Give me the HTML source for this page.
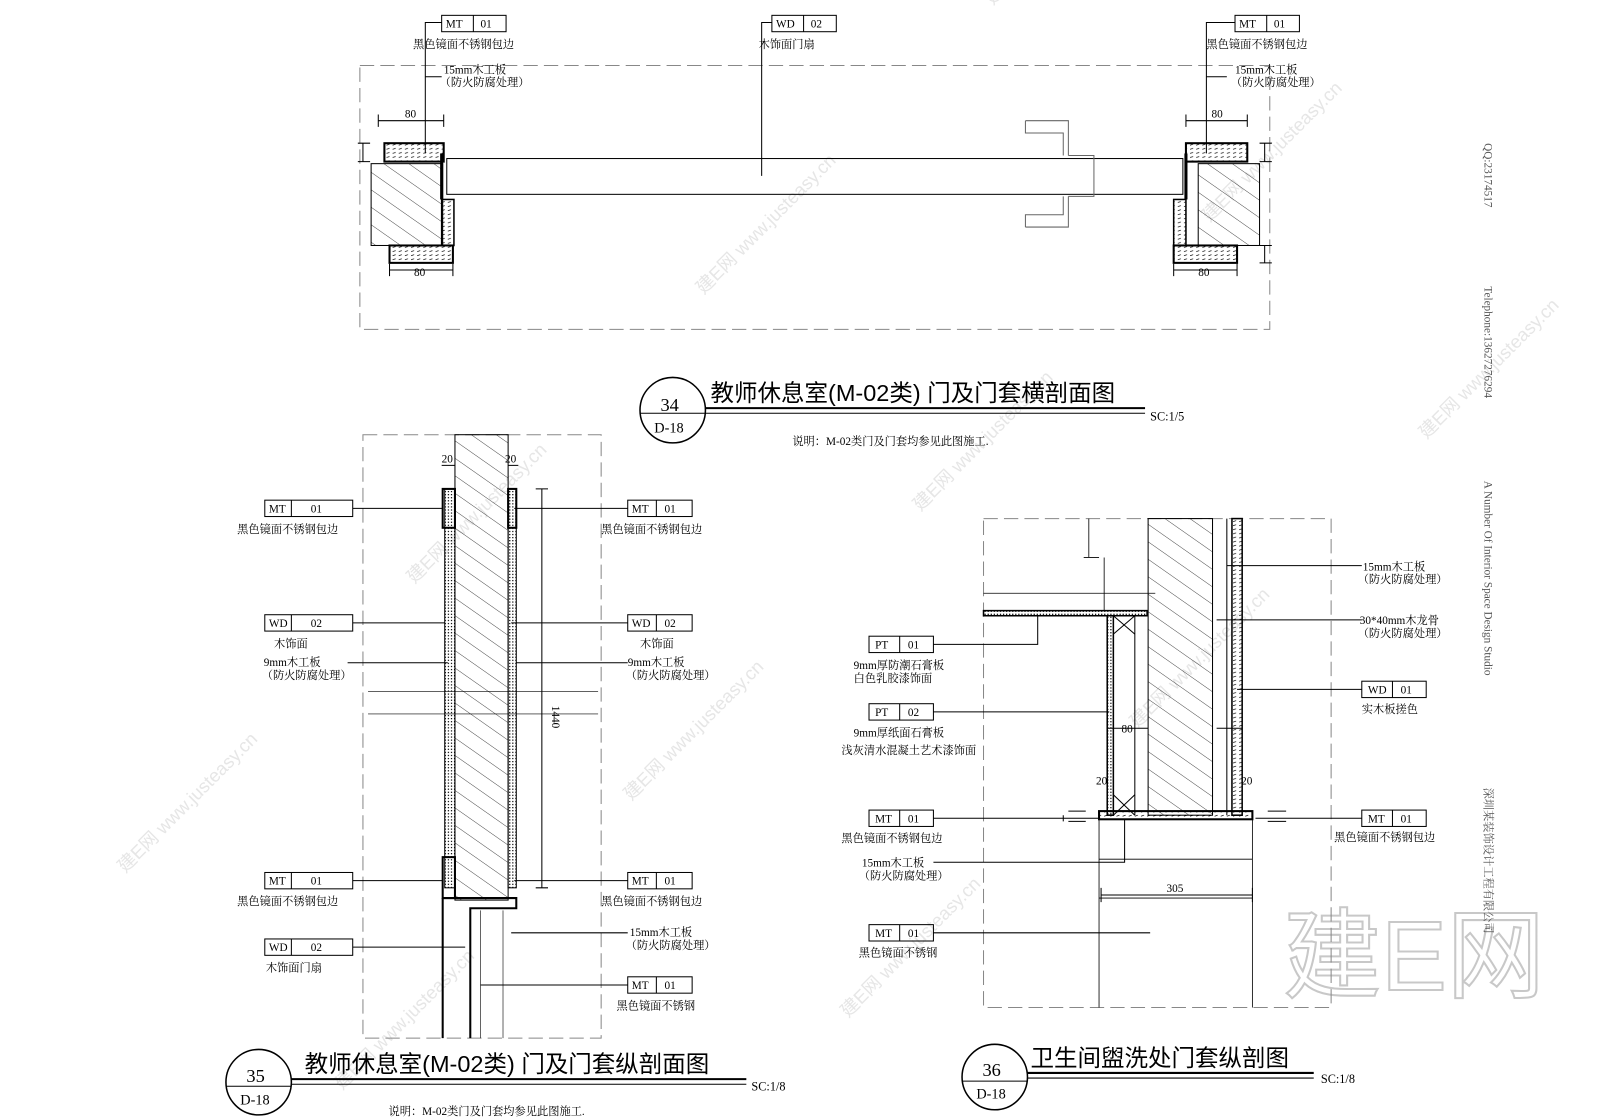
<!DOCTYPE html>
<html><head><meta charset="utf-8"><style>
html,body{margin:0;padding:0;background:#fff;width:1600px;height:1120px;overflow:hidden}
svg{display:block;overflow:hidden}
text{font-family:"Liberation Serif","Noto Serif CJK SC","Noto Sans CJK SC",serif;fill:#000}
.t{font-size:11px}
.tt{font-family:"Liberation Sans","Noto Sans CJK SC",sans-serif;font-size:23px}
.wm text{font-family:"Liberation Sans","Noto Sans CJK SC",sans-serif;fill:#e6e6e6}
</style></head><body>
<svg width="1600" height="1120" viewBox="0 0 1565 1095" preserveAspectRatio="none">
<defs>
<pattern id="h" width="14" height="14" patternUnits="userSpaceOnUse" patternTransform="rotate(-55)"><line x1="0" y1="0" x2="0" y2="14" stroke="#000" stroke-width="0.7"/></pattern>
<pattern id="w" width="6" height="4" patternUnits="userSpaceOnUse"><line x1="0" y1="2" x2="3" y2="1" stroke="#000" stroke-width="0.6"/></pattern>
<pattern id="p" width="3" height="3" patternUnits="userSpaceOnUse"><rect width="1.2" height="1.2" fill="#000"/></pattern>
</defs>
<!-- watermarks -->
<g class="wm" font-size="18" transform="rotate(-45 780 550)">
<text x="100" y="300">建E网 www.justeasy.cn</text><text x="500" y="300">建E网 www.justeasy.cn</text><text x="900" y="300">建E网 www.justeasy.cn</text><text x="1300" y="300">建E网 www.justeasy.cn</text>
<text x="100" y="600">建E网 www.justeasy.cn</text><text x="500" y="600">建E网 www.justeasy.cn</text><text x="900" y="600">建E网 www.justeasy.cn</text><text x="1300" y="600">建E网 www.justeasy.cn</text>
<text x="100" y="900">建E网 www.justeasy.cn</text><text x="500" y="900">建E网 www.justeasy.cn</text><text x="900" y="900">建E网 www.justeasy.cn</text><text x="1300" y="900">建E网 www.justeasy.cn</text>
</g>
<text x="1255" y="968" font-size="96" style="fill:none;stroke:#c8c8c8;stroke-width:2;font-family:'Liberation Sans','Noto Sans CJK SC',sans-serif">建E网</text>

<g fill="none" stroke="#000" stroke-width="1">
<!-- ===== 34 ===== -->
<rect x="352" y="64" width="890" height="258" stroke="#888" stroke-dasharray="14 6"/>
<rect x="437" y="155" width="720" height="35"/>
<rect x="363" y="160" width="70" height="80" fill="url(#h)"/>
<rect x="376" y="140" width="58" height="18" stroke-width="2" fill="url(#w)"/>
<rect x="381" y="240" width="62" height="17" stroke-width="2" fill="url(#w)"/>
<rect x="432" y="195" width="12" height="45" stroke-width="1.5" fill="url(#w)"/>
<line x1="432" y1="150" x2="432" y2="195" stroke-width="3"/>
<rect x="1172" y="160" width="60" height="80" fill="url(#h)"/>
<rect x="1160" y="140" width="60" height="18" stroke-width="2" fill="url(#w)"/>
<rect x="1148" y="240" width="62" height="17" stroke-width="2" fill="url(#w)"/>
<rect x="1148" y="195" width="12" height="45" stroke-width="1.5" fill="url(#w)"/>
<line x1="1160" y1="150" x2="1160" y2="195" stroke-width="3"/>
<path d="M1003 118 H1045 V152 M1003 118 V130 H1040 V152 M1003 222 H1045 V192 M1003 222 V210 H1040 V192 M1045 152 H1070 V192 H1045" stroke="#666"/>
<path d="M432 22 H416 V150 M416 75 H432"/><path d="M755 22 H745 V172"/><path d="M1208 22 H1180 V150 M1180 75 H1200"/>
<path d="M370 118 H434 M370 112 V124 M434 112 V124 M381 264 H443 M381 258 V270 M443 258 V270 M355 140 V158 M350 140 H362 M350 158 H362 M1160 118 H1220 M1160 112 V124 M1220 112 V124 M1148 264 H1210 M1148 258 V270 M1210 258 V270 M1237 240 V257 M1232 240 H1244 M1232 257 H1244 M1237 140 V158 M1232 140 H1244 M1232 158 H1244"/>
<rect x="432" y="15" width="63" height="16"/><line x1="463" y1="15" x2="463" y2="31"/>
<rect x="755" y="15" width="63" height="16"/><line x1="786" y1="15" x2="786" y2="31"/>
<rect x="1208" y="15" width="63" height="16"/><line x1="1239" y1="15" x2="1239" y2="31"/>
<circle cx="658" cy="401" r="32" stroke-width="1.5"/><line x1="626" y1="404" x2="690" y2="404"/>
<line x1="690" y1="399" x2="1120" y2="399" stroke-width="2"/><line x1="690" y1="404" x2="1120" y2="404"/>

<!-- ===== 35 ===== -->
<rect x="355" y="425" width="233" height="590" stroke="#888" stroke-dasharray="14 6"/>
<rect x="445" y="425" width="52" height="455" fill="url(#h)"/>
<rect x="435" y="478" width="10" height="390" fill="url(#p)"/>
<rect x="497" y="478" width="8" height="390" fill="url(#p)"/>
<rect x="433" y="478" width="12" height="38" stroke-width="2"/>
<rect x="497" y="478" width="8" height="38" stroke-width="2"/>
<rect x="433" y="838" width="12" height="40" stroke-width="2"/>
<path d="M433 878 H505 V888 H460 V1015 M433 878 V1015" stroke-width="2"/>
<line x1="470" y1="890" x2="470" y2="1015" stroke-width="0.6"/><line x1="492" y1="890" x2="492" y2="1015" stroke-width="0.6"/>
<line x1="360" y1="676" x2="585" y2="676" stroke-width="0.7"/><line x1="360" y1="698" x2="585" y2="698" stroke-width="0.7"/>
<path d="M530 478 V868 M524 478 H536 M524 868 H536 M432 455 H445 M497 455 H507"/>
<path d="M345 497 H433 M345 609 H435 M340 648 H438 M345 861 H433 M345 926 H455"/>
<path d="M614 497 H503 M614 609 H500 M614 648 H505 M614 861 H503 M614 912 H500 M614 963 H470"/>
<rect x="259" y="489" width="86" height="16"/><line x1="285" y1="489" x2="285" y2="505"/>
<rect x="259" y="601" width="86" height="16"/><line x1="285" y1="601" x2="285" y2="617"/>
<rect x="259" y="853" width="86" height="16"/><line x1="285" y1="853" x2="285" y2="869"/>
<rect x="259" y="918" width="86" height="16"/><line x1="285" y1="918" x2="285" y2="934"/>
<rect x="614" y="489" width="63" height="16"/><line x1="642" y1="489" x2="642" y2="505"/>
<rect x="614" y="601" width="63" height="16"/><line x1="642" y1="601" x2="642" y2="617"/>
<rect x="614" y="853" width="63" height="16"/><line x1="642" y1="853" x2="642" y2="869"/>
<rect x="614" y="955" width="63" height="16"/><line x1="642" y1="955" x2="642" y2="971"/>
<circle cx="253" cy="1058" r="32" stroke-width="1.5"/><line x1="221" y1="1062" x2="285" y2="1062"/>
<line x1="285" y1="1055" x2="730" y2="1055" stroke-width="2"/><line x1="285" y1="1060" x2="730" y2="1060"/>

<!-- ===== 36 ===== -->
<rect x="962" y="507" width="340" height="478" stroke="#888" stroke-dasharray="14 6"/>
<rect x="1123" y="507" width="63" height="290" fill="url(#h)"/>
<rect x="1205" y="507" width="10" height="290" fill="url(#w)" stroke-width="1.5"/>
<line x1="1200" y1="507" x2="1200" y2="797"/>
<rect x="962" y="597" width="160" height="5" fill="url(#p)" stroke-width="1.5"/>
<rect x="1083" y="602" width="6" height="195" fill="url(#p)" stroke-width="1.5"/>
<line x1="1110" y1="602" x2="1110" y2="797"/>
<line x1="1089" y1="602" x2="1110" y2="620"/><line x1="1110" y1="602" x2="1089" y2="620"/>
<line x1="1089" y1="777" x2="1110" y2="797"/><line x1="1110" y1="777" x2="1089" y2="797"/>
<rect x="1075" y="793" width="150" height="8" fill="url(#w)" stroke-width="2"/>
<path d="M1075 801 V985 M1225 801 V985 M1075 878 H1225 M1075 840 H1225" stroke-width="0.8"/>
<path d="M962 580 H1130 M1080 545 V597 M1065 507 V545 M1060 545 H1075" stroke-width="0.8"/>
<path d="M1077 875 H1225 M1077 868 V882 M1225 868 V882 M1083 712 H1123 M1190 712 H1215"/>
<path d="M913 630 H1015 V602 M913 696 H1085 M913 800 H1075 M913 843 H1100 V801 M913 912 H1125"/>
<path d="M1332 553 H1200 M1332 606 H1190 M1332 674 H1210 M1332 800 H1228"/>
<path d="M1040 797 V803 M1045 793 H1062 M1045 803 H1062 M1240 793 H1258 M1240 803 H1258"/>
<rect x="850" y="622" width="63" height="16"/><line x1="880" y1="622" x2="880" y2="638"/>
<rect x="850" y="688" width="63" height="16"/><line x1="880" y1="688" x2="880" y2="704"/>
<rect x="850" y="792" width="63" height="16"/><line x1="880" y1="792" x2="880" y2="808"/>
<rect x="850" y="904" width="63" height="16"/><line x1="880" y1="904" x2="880" y2="920"/>
<rect x="1332" y="666" width="63" height="16"/><line x1="1362" y1="666" x2="1362" y2="682"/>
<rect x="1332" y="792" width="63" height="16"/><line x1="1362" y1="792" x2="1362" y2="808"/>
<circle cx="973" cy="1053" r="32" stroke-width="1.5"/><line x1="941" y1="1057" x2="1005" y2="1057"/>
<line x1="1005" y1="1049" x2="1285" y2="1049" stroke-width="2"/><line x1="1005" y1="1054" x2="1285" y2="1054"/>
</g>

<g class="t">
<text x="436" y="27">MT</text><text x="470" y="27">01</text>
<text x="759" y="27">WD</text><text x="793" y="27">02</text>
<text x="1212" y="27">MT</text><text x="1246" y="27">01</text>
<text x="404" y="47">黑色镜面不锈钢包边</text><text x="742" y="47">木饰面门扇</text><text x="1180" y="47">黑色镜面不锈钢包边</text>
<text x="434" y="72">15mm木工板</text><text x="430" y="84">（防火防腐处理）</text>
<text x="1208" y="72">15mm木工板</text><text x="1204" y="84">（防火防腐处理）</text>
<text x="396" y="115">80</text><text x="405" y="270">80</text><text x="1185" y="115">80</text><text x="1172" y="270">80</text>
<text x="775" y="435">说明：M-02类门及门套均参见此图施工.</text>
<text x="1125" y="411" font-size="12">SC:1/5</text>
</g>
<text class="tt" x="695" y="392">教师休息室(M-02类) 门及门套横剖面图</text>
<text x="646" y="402" font-size="18">34</text><text x="640" y="423" font-size="14">D-18</text>

<g class="t">
<text x="263" y="501">MT</text><text x="304" y="501">01</text>
<text x="263" y="613">WD</text><text x="304" y="613">02</text>
<text x="263" y="865">MT</text><text x="304" y="865">01</text>
<text x="263" y="930">WD</text><text x="304" y="930">02</text>
<text x="618" y="501">MT</text><text x="650" y="501">01</text>
<text x="618" y="613">WD</text><text x="650" y="613">02</text>
<text x="618" y="865">MT</text><text x="650" y="865">01</text>
<text x="618" y="967">MT</text><text x="650" y="967">01</text>
<text x="232" y="521">黑色镜面不锈钢包边</text><text x="268" y="633">木饰面</text>
<text x="258" y="651">9mm木工板</text><text x="256" y="664">（防火防腐处理）</text>
<text x="232" y="885">黑色镜面不锈钢包边</text><text x="260" y="950">木饰面门扇</text>
<text x="588" y="521">黑色镜面不锈钢包边</text><text x="626" y="633">木饰面</text>
<text x="614" y="651">9mm木工板</text><text x="612" y="664">（防火防腐处理）</text>
<text x="588" y="885">黑色镜面不锈钢包边</text>
<text x="616" y="915">15mm木工板</text><text x="612" y="928">（防火防腐处理）</text>
<text x="603" y="987">黑色镜面不锈钢</text>
<text x="432" y="452">20</text><text x="494" y="452">20</text>
<text x="540" y="690" transform="rotate(90 540 690)">1440</text>
<text x="380" y="1090">说明：M-02类门及门套均参见此图施工.</text>
<text x="735" y="1066" font-size="12">SC:1/8</text>
</g>
<text class="tt" x="298" y="1048">教师休息室(M-02类) 门及门套纵剖面图</text>
<text x="241" y="1058" font-size="18">35</text><text x="235" y="1080" font-size="14">D-18</text>

<g class="t">
<text x="856" y="634">PT</text><text x="888" y="634">01</text>
<text x="856" y="700">PT</text><text x="888" y="700">02</text>
<text x="856" y="804">MT</text><text x="888" y="804">01</text>
<text x="856" y="916">MT</text><text x="888" y="916">01</text>
<text x="1338" y="678">WD</text><text x="1370" y="678">01</text>
<text x="1338" y="804">MT</text><text x="1370" y="804">01</text>
<text x="835" y="654">9mm厚防潮石膏板</text><text x="835" y="667">白色乳胶漆饰面</text>
<text x="835" y="720">9mm厚纸面石膏板</text><text x="823" y="737">浅灰清水混凝土艺术漆饰面</text>
<text x="823" y="823">黑色镜面不锈钢包边</text>
<text x="843" y="847">15mm木工板</text><text x="840" y="860">（防火防腐处理）</text>
<text x="840" y="935">黑色镜面不锈钢</text>
<text x="1333" y="558">15mm木工板</text><text x="1328" y="570">（防火防腐处理）</text>
<text x="1330" y="610">30*40mm木龙骨</text><text x="1328" y="623">（防火防腐处理）</text>
<text x="1332" y="697">实木板搓色</text>
<text x="1305" y="822">黑色镜面不锈钢包边</text>
<text x="1097" y="716">80</text><text x="1141" y="872">305</text>
<text x="1072" y="767">20</text><text x="1214" y="767">20</text>
<text x="1292" y="1059" font-size="12">SC:1/8</text>
</g>
<text class="tt" x="1008" y="1042">卫生间盥洗处门套纵剖图</text>
<text x="961" y="1052" font-size="18">36</text><text x="955" y="1074" font-size="14">D-18</text>
<g class="t" font-size="9">
<text x="1452" y="140" transform="rotate(90 1452 140)" style="fill:#555">QQ:23174517</text>
<text x="1452" y="280" transform="rotate(90 1452 280)" style="fill:#555">Telephone:13627276294</text>
<text x="1452" y="470" transform="rotate(90 1452 470)" style="fill:#555">A Number Of Interior Space Design Studio</text>
<text x="1452" y="770" transform="rotate(90 1452 770)" style="fill:#555">深圳某装饰设计工程有限公司</text>
</g>
</svg>
</body></html>
